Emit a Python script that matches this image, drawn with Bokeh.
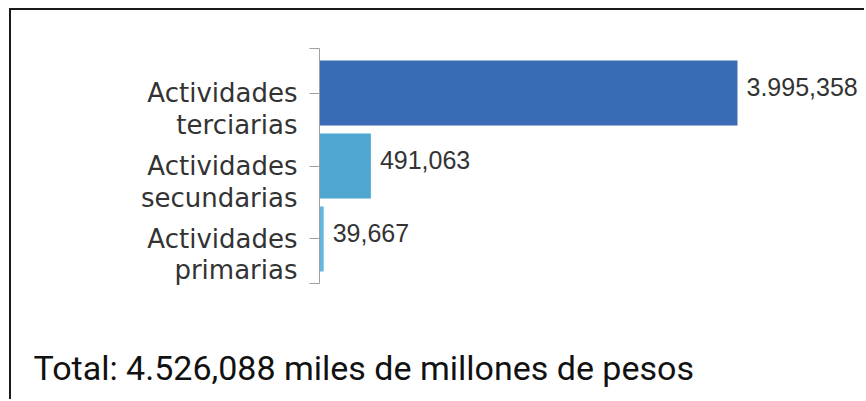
from bokeh.plotting import figure
from bokeh.models import Range1d, Title, ColumnDataSource, FixedTicker
from bokeh.core.properties import value
from bokeh.embed import file_html
from bokeh.resources import INLINE

# ---- data ----
categories = ["Actividades\nprimarias", "Actividades\nsecundarias", "Actividades\nterciarias"]
values = [39667, 491063, 3995358]
value_labels = ["39,667", "491,063", "3.995,358"]
bar_colors = ["#62b5dc", "#4fa6d0", "#3a6bb5"]
total_text = "Total: 4.526,088 miles de millones de pesos"

positions = list(range(len(categories)))
y_lo, y_hi = -0.61, len(categories) - 1 + 0.61
source = ColumnDataSource(dict(pos=positions, cat=categories, val=values,
                               lab=value_labels, col=bar_colors))

p = figure(width=855, height=391, output_backend="svg", toolbar_location=None,
           y_range=Range1d(y_lo, y_hi),
           x_range=Range1d(0, 5.2284e6),
           min_border_left=308, min_border_top=38, min_border_bottom=118, min_border_right=0)

p.styles = {"margin-left": "9px", "margin-top": "8px",
            "border-left": "2px solid #1a1a1a", "border-top": "2px solid #1a1a1a"}

p.outline_line_color = None
p.background_fill_color = "white"
p.border_fill_color = "white"
p.xgrid.visible = False
p.ygrid.visible = False

# x axis kept as an empty spacer between the bars and the total line
xax = p.xaxis[0]
xax.ticker = FixedTicker(ticks=[])
xax.axis_line_color = None
xax.major_tick_line_color = None
xax.minor_tick_line_color = None
xax.major_tick_out = 0
xax.major_tick_in = 0
xax.axis_label = "\u00a0"
xax.axis_label_standoff = 43
xax.axis_label_text_font_size = "10px"

p.hbar(y="pos", left=0, right="val", height=0.89, fill_color="col", line_color=None, source=source)

p.text(x="val", y="pos", text="lab", source=source, x_offset=9, y_offset=-6,
       text_align="left", text_baseline="middle",
       text_font=value("Liberation Sans"), text_font_size="25px", text_color="#333333")

yax = p.yaxis[0]
yax.ticker = FixedTicker(ticks=positions + [y_lo, y_hi])
overrides = {pos: "\u00a0\n" + c for pos, c in zip(positions, categories)}
overrides[y_lo] = ""
overrides[y_hi] = ""
yax.major_label_overrides = overrides
yax.axis_line_color = "#a0a0a0"
yax.major_tick_line_color = "#a0a0a0"
yax.major_tick_out = 10
yax.major_tick_in = 0
yax.minor_tick_line_color = None
yax.major_label_standoff = 12
yax.major_label_text_font = "DejaVu Sans"
yax.major_label_text_font_size = "26px"
yax.major_label_text_color = "#333333"
yax.major_label_text_line_height = 1.05

p.add_layout(Title(text=total_text, align="left", offset=-286, standoff=10,
                   text_font="Roboto", text_font_size="34px", text_color="#111111",
                   text_font_style="normal"), "below")

open("out.html", "w").write(file_html(p, INLINE))
